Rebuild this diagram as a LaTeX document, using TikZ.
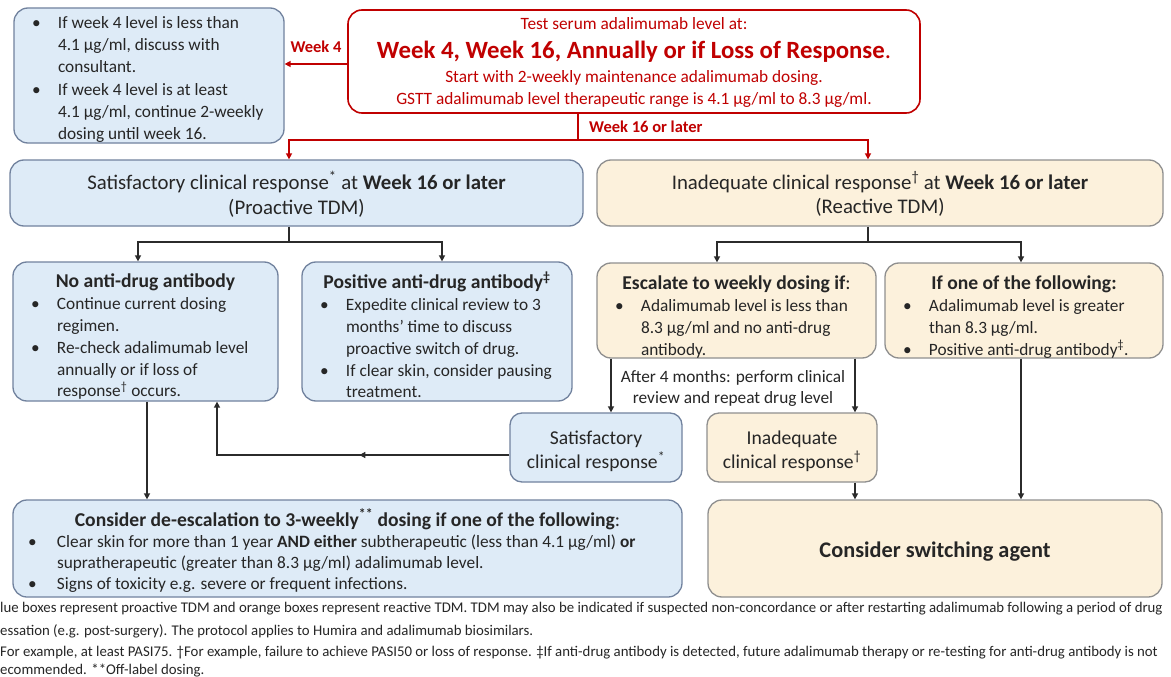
\documentclass[tikz,border=0pt]{standalone}
\usepackage{fontspec}
\setmainfont{Carlito}
\newfontfamily\notefont{Carlito}
\usetikzlibrary{arrows.meta,decorations.markings}
\definecolor{bfill}{HTML}{DEEBF7}
\definecolor{bline}{HTML}{71829E}
\definecolor{ofill}{HTML}{FCF1DC}
\definecolor{oline}{HTML}{8F8F8F}
\definecolor{rd}{HTML}{C00000}
\definecolor{lk}{HTML}{2B2B2B}
\definecolor{tx}{HTML}{262626}
\newcommand{\hd}{\fontsize{19.6}{22}\selectfont\bfseries}
\newcommand{\lowr}[2]{\raisebox{-#1}[\height][\depth]{#2}}
\begin{document}
\begin{tikzpicture}[x=1pt,y=-1pt,text=tx,
  box/.style={rounded corners=14pt, line width=1.3pt, inner sep=0pt, align=center},
  bluebox/.style={box, fill=bfill, draw=bline},
  orgbox/.style={box, fill=ofill, draw=oline},
  redbox/.style={box, fill=white, draw=rd, line width=1.6pt},
  ln/.style={draw=lk, line width=1.6pt},
  arr/.style={ln, -{Triangle[length=6pt,width=6pt]}},
  rln/.style={draw=rd, line width=1.5pt},
  rarr/.style={rln, -{Triangle[length=6pt,width=6pt]}},
  rlab/.style={text=rd, font=\fontsize{16.5}{18}\selectfont\bfseries, inner sep=1pt},
  note/.style={anchor=base west, inner sep=0pt, font=\notefont\fontsize{14.8}{16}\selectfont},
  midarr/.style={postaction={decorate, decoration={markings, mark=at position 150pt with {\arrow{Triangle[length=6pt,width=6pt]}}}}}
]
\useasboundingbox[fill=white] (0,0) rectangle (1171,677);

% ---------- top row ----------
\node[bluebox, minimum width=270pt, minimum height=135pt] (tl) at (149,75.5) {\fontsize{17.3}{22.2}\selectfont\lowr{4pt}{%
\begin{tabular}{@{\hspace{18pt}}p{26pt}@{}p{226pt}@{}}
\textbullet & If week 4 level is less than\\
 & 4.1 µg/ml, discuss with\\
 & consultant.\\
\textbullet & If week 4 level is at least\\
 & 4.1 µg/ml, continue 2-weekly\\
 & dosing until week 16.
\end{tabular}}};

\node[redbox, minimum width=572pt, minimum height=103pt] (top) at (634,61.5) {};
\node[text=rd, anchor=base, inner sep=0pt, font=\fontsize{17.3}{20}\selectfont] (t1) at (634,30) {Test serum adalimumab level at:};
\node[text=rd, anchor=base, inner sep=0pt, font=\fontsize{24.8}{28}\selectfont\bfseries] (t2) at (634,59) {Week 4, Week 16, Annually or if Loss of Response\mdseries.};
\node[text=rd, anchor=base, inner sep=0pt, font=\fontsize{17.3}{20}\selectfont] (t3) at (634,82) {Start with 2-weekly maintenance adalimumab dosing.};
\node[text=rd, anchor=base, inner sep=0pt, font=\fontsize{17.3}{20}\selectfont] (t4) at (634,104) {GSTT adalimumab level therapeutic range is 4.1 µg/ml to 8.3 µg/ml.};

\coordinate (w4y) at (0,64);
\draw[rarr] (top.west |- w4y) -- (tl.east |- w4y);
\node[rlab] (w4) at (316,47) {Week 4};

\coordinate (r1) at (578,140);
\coordinate (rL) at (289,140);
\coordinate (rR) at (868,140);
\node[rlab, anchor=west] (w16) at (588,127) {Week 16 or later};

% ---------- response boxes ----------
\node[bluebox, minimum width=573pt, minimum height=66pt] (sat) at (296.5,193) {\fontsize{20.8}{24.5}\selectfont\lowr{3.5pt}{%
\begin{tabular}{@{}c@{}}Satisfactory clinical response\textsuperscript{*} at \textbf{Week 16 or later}\\(Proactive TDM)\end{tabular}}};
\node[orgbox, minimum width=566pt, minimum height=66pt] (inad) at (880,193) {\fontsize{20.8}{24.5}\selectfont\lowr{3.5pt}{%
\begin{tabular}{@{}c@{}}Inadequate clinical response\textsuperscript{\textdagger} at \textbf{Week 16 or later}\\(Reactive TDM)\end{tabular}}};

\draw[rln] (top.south -| r1) -- (r1);
\draw[rarr] (r1) -- (rL) -- (rL |- sat.north);
\draw[rarr] (r1) -- (rR) -- (rR |- inad.north);

% ---------- second level ----------
\node[bluebox, minimum width=265pt, minimum height=139pt] (noanti) at (145.5,331.5) {\fontsize{17.3}{21.8}\selectfont\lowr{6.5pt}{%
\begin{tabular}{@{\hspace{18pt}}p{26pt}@{}p{221pt}@{}}
\multicolumn{2}{@{}c@{}}{\hd No anti-drug antibody}\\
\textbullet & Continue current dosing\\
 & regimen.\\
\textbullet & Re-check adalimumab level\\
 & annually or if loss of\\
 & response\textsuperscript{\textdagger} occurs.
\end{tabular}}};

\node[bluebox, minimum width=270pt, minimum height=139pt] (pos) at (437,331.5) {\fontsize{17.3}{21.8}\selectfont\lowr{6.5pt}{%
\begin{tabular}{@{\hspace{18pt}}p{26pt}@{}p{226pt}@{}}
\multicolumn{2}{@{}c@{}}{\hd Positive anti-drug antibody\textsuperscript{\textdaggerdbl}}\\
\textbullet & Expedite clinical review to 3\\
 & months’ time to discuss\\
 & proactive switch of drug.\\
\textbullet & If clear skin, consider pausing\\
 & treatment.
\end{tabular}}};

\node[orgbox, minimum width=279pt, minimum height=95pt] (esc) at (736.5,310.5) {\fontsize{17.3}{21.8}\selectfont\lowr{7.5pt}{%
\begin{tabular}{@{\hspace{18pt}}p{26pt}@{}p{235pt}@{}}
\multicolumn{2}{@{}c@{}}{\hd Escalate to weekly dosing if\mdseries:}\\
\textbullet & Adalimumab level is less than\\
 & 8.3 µg/ml and no anti-drug\\
 & antibody.
\end{tabular}}};

\node[orgbox, minimum width=278pt, minimum height=95pt] (ifone) at (1024,310.5) {\fontsize{17.3}{21.8}\selectfont\lowr{7.5pt}{%
\begin{tabular}{@{\hspace{18pt}}p{26pt}@{}p{234pt}@{}}
\multicolumn{2}{@{}c@{}}{\hd If one of the following:}\\
\textbullet & Adalimumab level is greater\\
 & than 8.3 µg/ml.\\
\textbullet & Positive anti-drug antibody\textsuperscript{\textdaggerdbl}.
\end{tabular}}};

\coordinate (s1) at (289,242);
\coordinate (sL) at (138,242);
\coordinate (sR) at (442,242);
\draw[ln] (sat.south -| s1) -- (s1);
\draw[arr] (s1) -- (sL) -- (sL |- noanti.north);
\draw[arr] (s1) -- (sR) -- (sR |- pos.north);

\coordinate (i1) at (868,242);
\coordinate (iL) at (717,242);
\coordinate (iR) at (1021,242);
\draw[ln] (inad.south -| i1) -- (i1);
\draw[arr] (i1) -- (iL) -- (iL |- esc.north);
\draw[arr] (i1) -- (iR) -- (iR |- ifone.north);

% ---------- third level ----------
\node[font=\fontsize{17.3}{21}\selectfont, align=center] (after) at (733,388) {After 4 months: perform clinical\\review and repeat drug level};

\node[bluebox, rounded corners=12pt, minimum width=172pt, minimum height=69pt] (satS) at (596,447.5) {\fontsize{19.6}{24}\selectfont\lowr{4pt}{%
\begin{tabular}{@{}c@{}}Satisfactory\\clinical response\textsuperscript{*}\end{tabular}}};
\node[orgbox, rounded corners=12pt, minimum width=170pt, minimum height=69pt] (inadS) at (792,447.5) {\fontsize{19.6}{24}\selectfont\lowr{4pt}{%
\begin{tabular}{@{}c@{}}Inadequate\\clinical response\textsuperscript{\textdagger}\end{tabular}}};

\coordinate (eL) at (611,0);
\coordinate (eR) at (855,0);
\draw[arr] (esc.south -| eL) -- (satS.north -| eL);
\draw[arr] (esc.south -| eR) -- (inadS.north -| eR);

\coordinate (jn) at (217,455);
\draw[arr, midarr] (satS.west |- jn) -- (jn) -- (jn |- noanti.south);

% ---------- bottom ----------
\node[bluebox, minimum width=669pt, minimum height=97pt] (deesc) at (347.5,548.5) {\fontsize{17.3}{21}\selectfont\lowr{4pt}{%
\begin{tabular}{@{\hspace{15pt}}p{29pt}@{}p{625pt}@{}}
\multicolumn{2}{@{}c@{}}{\hd Consider de-escalation to 3-weekly\textsuperscript{**} dosing if one of the following\mdseries:}\\
\textbullet & Clear skin for more than 1 year \textbf{AND either} subtherapeutic (less than 4.1 µg/ml) \textbf{or}\\
 & supratherapeutic (greater than 8.3 µg/ml) adalimumab level.\\
\textbullet & Signs of toxicity e.g. severe or frequent infections.
\end{tabular}}};

\node[orgbox, minimum width=454pt, minimum height=97pt] (switch) at (935,548.5) {\fontsize{22.3}{26}\selectfont\bfseries\lowr{3pt}{Consider switching agent}};

\coordinate (nD) at (147,0);
\coordinate (fR) at (1021,0);
\draw[arr] (noanti.south -| nD) -- (deesc.north -| nD);
\draw[arr] (inadS.south -| eR) -- (switch.north -| eR);
\draw[arr] (ifone.south -| fR) -- (switch.north -| fR);

% ---------- footnotes ----------
\node[note] (n1) at (0,612) {lue boxes represent proactive TDM and orange boxes represent reactive TDM. TDM may also be indicated if suspected non-concordance or after restarting adalimumab following a period of drug};
\node[note] (n2) at (0,635) {essation (e.g. post-surgery). The protocol applies to Humira and adalimumab biosimilars.};
\node[note] (n3) at (0,656) {For example, at least PASI75. \textdagger For example, failure to achieve PASI50 or loss of response. \textdaggerdbl If anti-drug antibody is detected, future adalimumab therapy or re-testing for anti-drug antibody is not};
\node[note] (n4) at (0,674) {ecommended. **Off-label dosing.};
\end{tikzpicture}
\end{document}
